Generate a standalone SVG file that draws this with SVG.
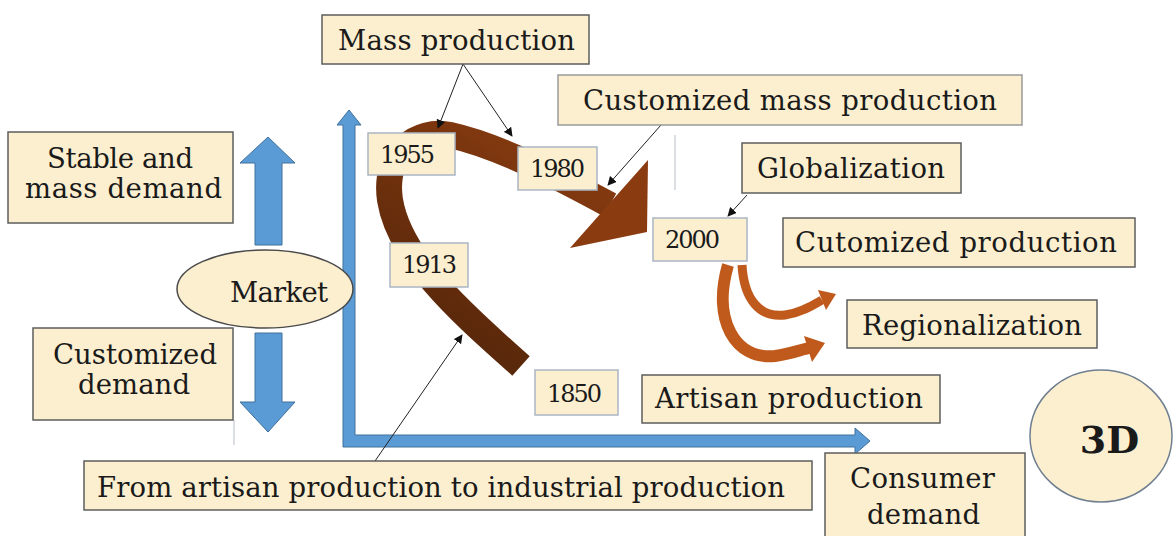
<svg xmlns="http://www.w3.org/2000/svg" width="1173" height="536" viewBox="0 0 1173 536">
<defs>
<style>
.box{fill:#fcefcf;stroke:#5e5e5e;stroke-width:1.5}
.dbox{fill:#fcefcf;stroke:#aab6c4;stroke-width:1.5}
.ell{fill:#fcefcf;stroke:#4a4a4a;stroke-width:1.5}
.t{font-family:"DejaVu Serif","Liberation Serif",serif;font-size:27.5px;fill:#1a1a1a;text-anchor:middle}
.d{font-family:"DejaVu Serif","Liberation Serif",serif;font-size:24px;fill:#1a1a1a;text-anchor:middle}
.blue{fill:#5b9bd5;stroke:#41719c;stroke-width:1}
.call{stroke:#222;stroke-width:1;fill:none;marker-end:url(#ah)}
.faint{stroke:#cfd4da;stroke-width:1.5}
</style>
<marker id="ah" viewBox="0 0 10 10" refX="9" refY="5" markerWidth="9" markerHeight="9" markerUnits="userSpaceOnUse" orient="auto">
<path d="M0,0 L10,5 L0,10 z" fill="#111"/>
</marker>
<linearGradient id="brown" gradientUnits="userSpaceOnUse" x1="520" y1="370" x2="640" y2="170">
<stop offset="0" stop-color="#5a280b"/>
<stop offset="1" stop-color="#8a3c10"/>
</linearGradient>
</defs>

<g id="faint-lines">
<line class="faint" x1="675" y1="135" x2="675" y2="190"/>
<line class="faint" x1="234" y1="420" x2="234" y2="445"/>
</g>

<g id="axes">
<path class="blue" d="M343,447 L343,125 L337,125 L349,110 L361,125 L355,125 L355,435 L855,435 L855,428 L870,441 L855,454 L855,447 Z"/>
</g>

<g id="market-arrows">
<path class="blue" d="M255,245 L255,163 L240,163 L268,137 L295,163 L282,163 L282,245 Z"/>
<path class="blue" d="M255,333 L282,333 L282,402 L295,402 L268,432 L240,402 L255,402 Z"/>
</g>

<g id="timeline-arrow">
<path d="M521,366 C470,320 400,262 390,200 C383,152 418,128 450,135 C500,146 560,178 610,205" fill="none" stroke="url(#brown)" stroke-width="26"/>
<polygon points="648,160 647,232 570,248" fill="#8a3c10"/>
</g>

<g id="split-arrows">
<path d="M742,265 C744,300 760,318 785,315 C800,313 812,306 822,300" fill="none" stroke="#c05a1c" stroke-width="9"/>
<polygon points="818,290 836,294 826,310" fill="#c05a1c"/>
<path d="M728,265 C712,320 735,360 775,356 C790,354 800,350 809,348" fill="none" stroke="#c05a1c" stroke-width="12"/>
<polygon points="804,336 825,343 812,362" fill="#c05a1c"/>
</g>

<g id="connectors">
<line class="call" x1="463" y1="64" x2="438" y2="128"/>
<line class="call" x1="463" y1="64" x2="512" y2="136"/>
<line class="call" x1="661" y1="125" x2="608" y2="185"/>
<line class="call" x1="747" y1="195" x2="728" y2="216"/>
<line class="call" x1="375" y1="461" x2="462" y2="335"/>
</g>

<g id="stable-demand">
<rect class="box" x="8" y="132" width="225" height="91"/>
<text class="t" x="120" y="168" textLength="146">Stable and</text>
<text class="t" x="123.5" y="198" textLength="197">mass demand</text>
</g>
<g id="customized-demand">
<rect class="box" x="33" y="328" width="200" height="92"/>
<text class="t" x="135" y="364" textLength="164">Customized</text>
<text class="t" x="134" y="394" textLength="112">demand</text>
</g>
<g id="market">
<ellipse class="ell" cx="265" cy="289" rx="88" ry="39"/>
<text class="t" x="279" y="302" textLength="98">Market</text>
</g>
<g id="mass-production">
<rect class="box" x="322" y="15" width="267" height="49"/>
<text class="t" x="456.5" y="50" textLength="237">Mass production</text>
</g>
<g id="customized-mass-production">
<rect class="box" x="558" y="75" width="464" height="50" style="stroke:#9a9a9a"/>
<text class="t" x="790" y="110" textLength="414">Customized mass production</text>
</g>
<g id="globalization">
<rect class="box" x="742" y="143" width="219" height="50"/>
<text class="t" x="851" y="178" textLength="188">Globalization</text>
</g>
<g id="cutomized-production">
<rect class="box" x="783" y="218" width="352" height="49"/>
<text class="t" x="956" y="252" textLength="322">Cutomized production</text>
</g>
<g id="regionalization">
<rect class="box" x="847" y="300" width="250" height="48"/>
<text class="t" x="972" y="335" textLength="220">Regionalization</text>
</g>
<g id="artisan-production">
<rect class="box" x="642" y="375" width="298" height="48"/>
<text class="t" x="789" y="408" textLength="268">Artisan production</text>
</g>
<g id="consumer-demand">
<rect class="box" x="825" y="453" width="200" height="90"/>
<text class="t" x="922.5" y="488" textLength="145">Consumer</text>
<text class="t" x="923.5" y="524" textLength="113">demand</text>
</g>
<g id="from-artisan">
<rect class="box" x="84" y="461" width="728" height="49"/>
<text class="t" x="441" y="497" textLength="688">From artisan production to industrial production</text>
</g>
<g id="three-d">
<ellipse class="ell" cx="1101" cy="436" rx="71" ry="66" style="stroke:#6f7f90"/>
<text class="t" x="1109.5" y="453" style="font-size:38px;font-weight:bold">3D</text>
</g>

<g id="y1955">
<rect class="dbox" x="368" y="133" width="87" height="42"/>
<text class="d" x="407.5" y="163" textLength="55">1955</text>
</g>
<g id="y1980">
<rect class="dbox" x="518" y="147" width="79" height="43"/>
<text class="d" x="557.5" y="177" textLength="55">1980</text>
</g>
<g id="y1913">
<rect class="dbox" x="390" y="243" width="78" height="44"/>
<text class="d" x="429.5" y="273" textLength="55">1913</text>
</g>
<g id="y1850">
<rect class="dbox" x="535" y="370" width="83" height="45"/>
<text class="d" x="574.5" y="402" textLength="55">1850</text>
</g>
<g id="y2000">
<rect class="dbox" x="653" y="218" width="94" height="43"/>
<text class="d" x="692.5" y="248" textLength="55">2000</text>
</g>
</svg>
